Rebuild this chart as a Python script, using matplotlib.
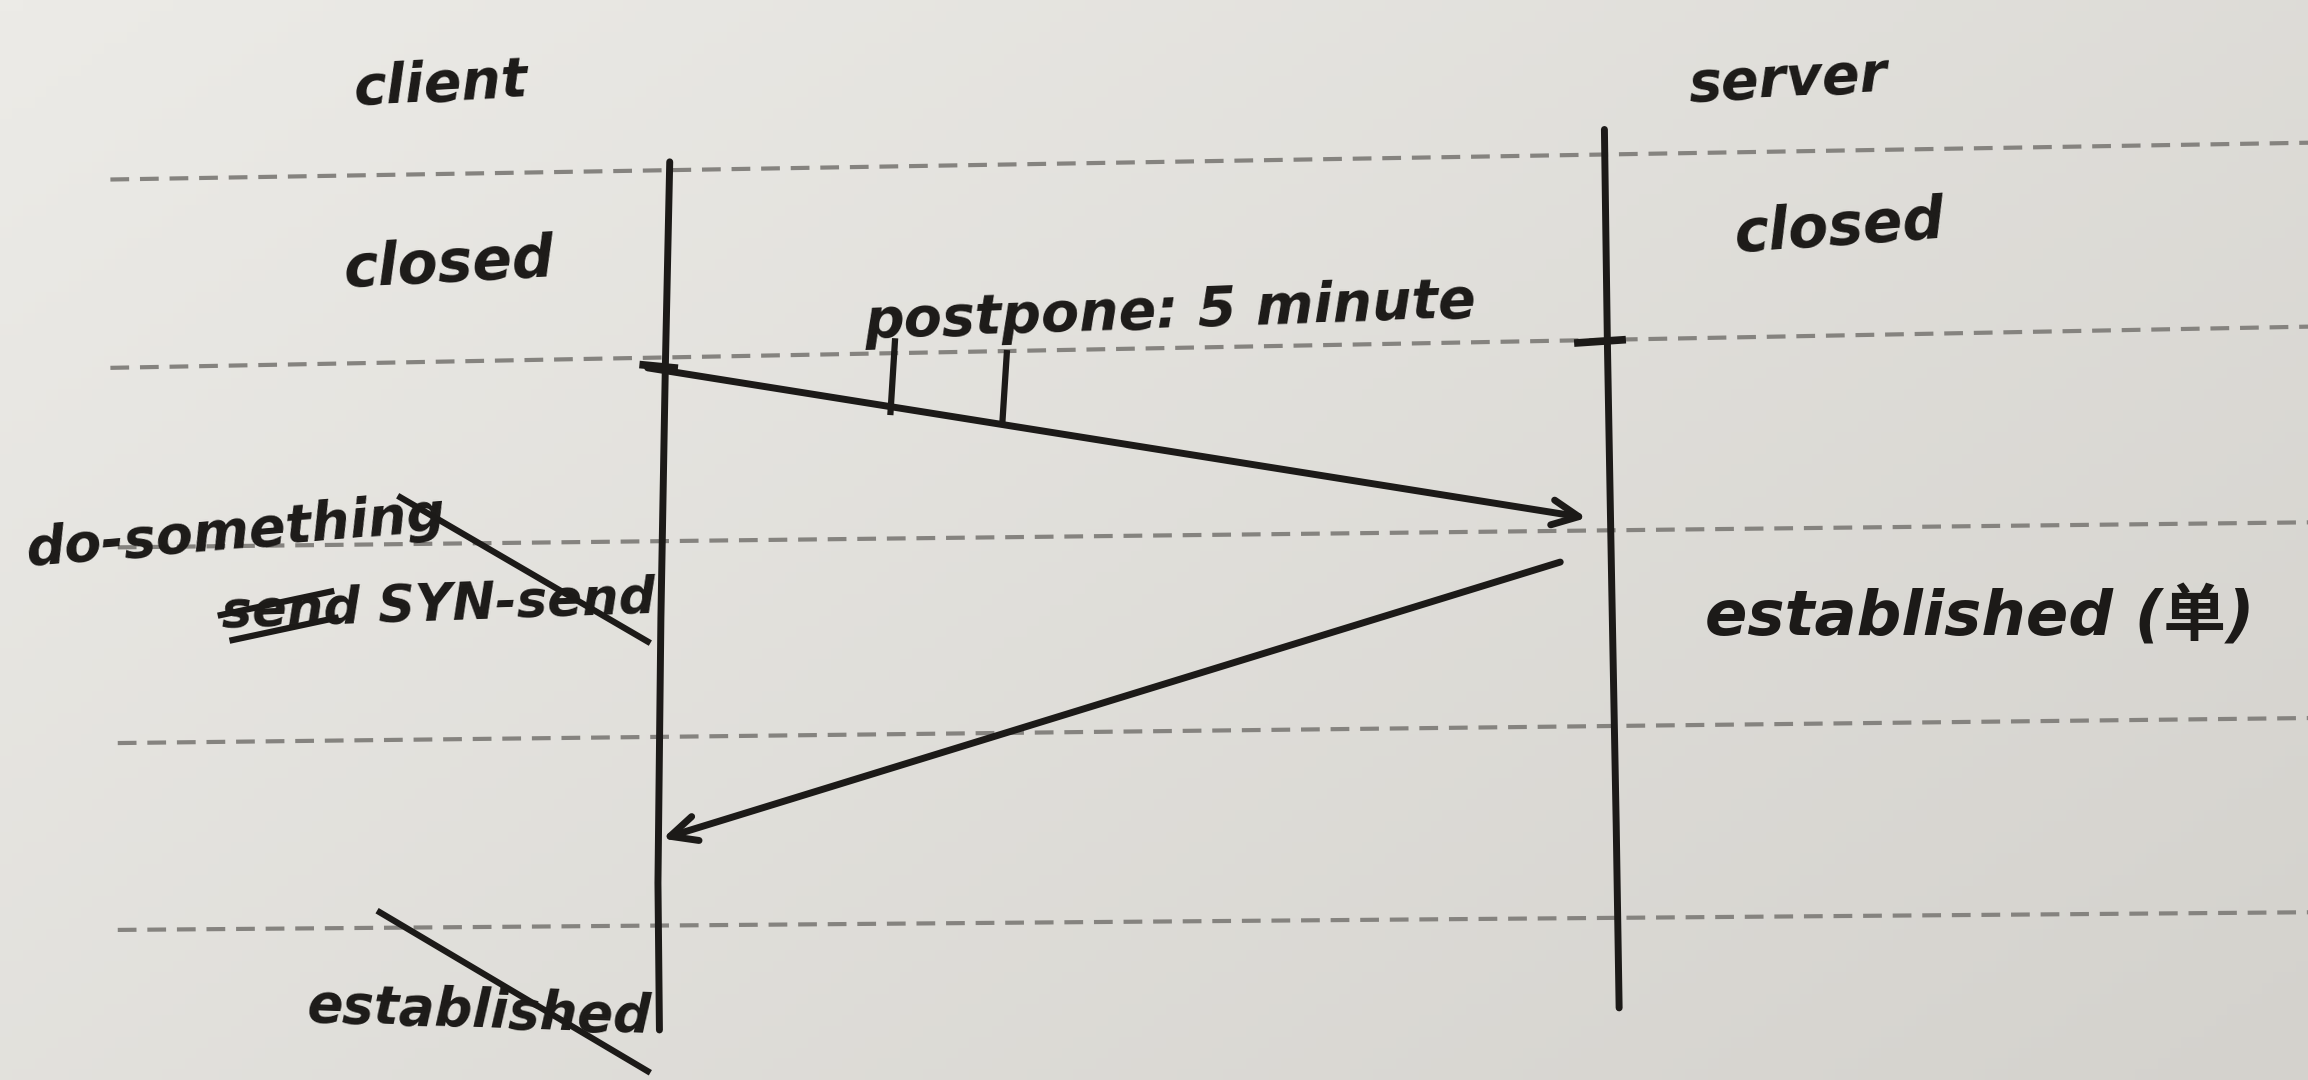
import numpy as np
import matplotlib.pyplot as plt
from matplotlib.colors import LinearSegmentedColormap

plt.rcParams['font.family'] = ['DejaVu Sans', 'Noto Sans CJK SC']

# sketch coordinates are in a 1568 x 734 page, y pointing down
page_w, page_h = 1568, 734

# ruled (dashed) lines on the paper: y at left edge, y at right edge
rule_left_x = [75, 75, 80, 80, 80]
rule_left_y = [122, 250, 372, 505, 632]
rule_right_y = [97, 222, 355, 488, 620]

# lifelines
lifeline_names = ["client", "server"]
lifeline_name_pos = [(300, 58), (1215, 55)]
client_line_x = [455, 452, 449, 447, 448]
client_line_y = [110, 250, 420, 600, 700]
server_line_x = [1090, 1092, 1095, 1098, 1100]
server_line_y = [88, 232, 400, 560, 685]

# state labels: text, x, y, rotation, size
state_labels = ["closed", "closed", "do-something", "established", "established (单)"]
state_x = [305, 1250, 160, 325, 1345]
state_y = [180, 155, 362, 688, 420]
state_rot = [3, 4, 5, -2, 0]
state_size = [42, 42, 39, 38, 45]

# messages: start point, end point
msg_start = [(440, 250), (1060, 382)]
msg_end = [(1078, 352), (450, 570)]
msg_label = "postpone: 5 minute"
msg_label_pos = (795, 212)

ink = "#1c1a18"
paper = "#e2e1dc"

fig = plt.figure(figsize=(23.08, 10.80), dpi=100)
fig.patch.set_facecolor(paper)
ax = fig.add_axes([0, 0, 1, 1])
ax.set_xlim(0, page_w)
ax.set_ylim(page_h, 0)
ax.axis("off")

# soft lighting gradient of the photo
paper_cmap = LinearSegmentedColormap.from_list("paper", ["#ecebe7", "#d4d2cd"])
gx = np.linspace(0, 1, 200)
gy = np.linspace(0, 1, 100)
grad = 0.6 * gx[None, :] + 0.4 * gy[:, None]
ax.imshow(grad, extent=(0, page_w, page_h, 0), cmap=paper_cmap, vmin=0, vmax=1,
          aspect="auto", zorder=0)

# ruled lines
for x0, y0, y1 in zip(rule_left_x, rule_left_y, rule_right_y):
    ax.plot([x0, page_w], [y0, y1], color="#85837f", lw=3.0,
            dashes=(4.5, 2.6), zorder=1)

# lifelines
ax.plot(client_line_x, client_line_y, color=ink, lw=5, zorder=3, solid_capstyle="round")
ax.plot(server_line_x, server_line_y, color=ink, lw=5, zorder=3, solid_capstyle="round")
ax.plot([437, 458], [248, 250], color=ink, lw=5.5, zorder=3)
ax.plot([1072, 1102], [233, 231], color=ink, lw=5.5, zorder=3)

for name, (x, y) in zip(lifeline_names, lifeline_name_pos):
    ax.text(x, y, name, fontsize=40, style="italic", weight="bold", color=ink,
            ha="center", va="center", rotation=3, zorder=4)

for txt, x, y, r, s in zip(state_labels, state_x, state_y, state_rot, state_size):
    ax.text(x, y, txt, fontsize=s, style="italic", weight="bold", color=ink,
            ha="center", va="center", rotation=r, zorder=4)

# crossed-out "send SYN-send" on the client side
ax.text(298, 412, "send SYN-send", fontsize=37, style="italic", weight="bold", color=ink,
        ha="center", va="center", rotation=2, zorder=4)
ax.plot([150, 225], [418, 402], color=ink, lw=4.5, zorder=5)
ax.plot([158, 228], [435, 420], color=ink, lw=4.5, zorder=5)
ax.plot([272, 440], [338, 436], color=ink, lw=4.5, zorder=5)
# crossed-out "established" at the bottom
ax.plot([258, 440], [620, 728], color=ink, lw=4.5, zorder=5)

# messages
for (x0, y0), (x1, y1) in zip(msg_start, msg_end):
    ax.annotate("", xy=(x1, y1), xytext=(x0, y0),
                arrowprops=dict(arrowstyle="->,head_length=1.9,head_width=0.9",
                                color=ink, lw=5, shrinkA=0, shrinkB=0),
                zorder=4)

ax.text(msg_label_pos[0], msg_label_pos[1], msg_label, fontsize=40, weight="bold",
        style="italic", color=ink, ha="center", va="center", rotation=2, zorder=4)
ax.plot([608, 605], [232, 280], color=ink, lw=4.5, zorder=4)
ax.plot([684, 681], [240, 287], color=ink, lw=4.5, zorder=4)

fig.savefig("out.png", dpi=100, facecolor=paper)
